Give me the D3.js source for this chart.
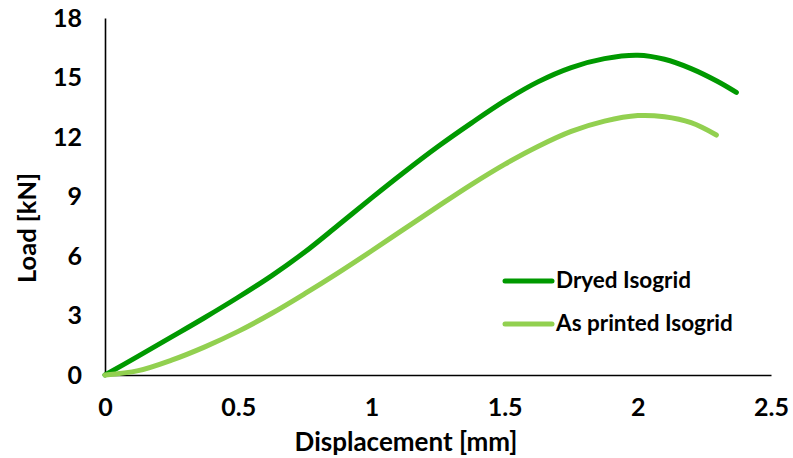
<!DOCTYPE html>
<html>
<head>
<meta charset="utf-8">
<script src="https://cdn.jsdelivr.net/npm/d3@7"></script>
<style>
  body { margin: 0; background: #fff; }
  text { font-family: Lato, "Open Sans", sans-serif; font-weight: bold; fill: #000; }
</style>
</head>
<body>
<svg id="chart" width="793" height="458"></svg>
<script>
// values
var dryedX = [0, 0.125, 0.25, 0.375, 0.5, 0.625, 0.75, 0.875, 1.0, 1.125, 1.25, 1.375, 1.5, 1.625, 1.75, 1.875, 2.0, 2.1, 2.2, 2.3, 2.37];
var dryedY = [0, 0.95, 1.92, 2.9, 3.92, 5.0, 6.2, 7.55, 8.92, 10.25, 11.52, 12.7, 13.82, 14.78, 15.5, 15.95, 16.12, 15.92, 15.45, 14.8, 14.25];
var printedX = [0, 0.125, 0.25, 0.375, 0.5, 0.625, 0.75, 0.875, 1.0, 1.125, 1.25, 1.375, 1.5, 1.625, 1.75, 1.875, 2.0, 2.1, 2.2, 2.295];
var printedY = [0, 0.22, 0.75, 1.42, 2.2, 3.1, 4.1, 5.15, 6.25, 7.38, 8.5, 9.6, 10.62, 11.52, 12.28, 12.8, 13.08, 13.02, 12.72, 12.1];
var xTicks = [0, 0.5, 1, 1.5, 2, 2.5];
var yTicks = [0, 3, 6, 9, 12, 15, 18];
var seriesNames = ["Dryed Isogrid", "As printed Isogrid"];

var svg = d3.select("#chart");
var margin = { left: 105, right: 22, top: 18, bottom: 83 };
var w = 793 - margin.left - margin.right;
var h = 458 - margin.top - margin.bottom;

var x = d3.scaleLinear().domain([0, 2.5]).range([0, w]);
var y = d3.scaleLinear().domain([0, 18]).range([h, 0]);

var g = svg.append("g").attr("transform", "translate(" + margin.left + "," + margin.top + ")");

var series = [
    { name: seriesNames[0], color: "#009900", pts: dryedX.map(function(v, i) { return [v, dryedY[i]]; }) },
    { name: seriesNames[1], color: "#92d050", pts: printedX.map(function(v, i) { return [v, printedY[i]]; }) }
];

var line = d3.line()
    .x(function(d) { return x(d[0]); })
    .y(function(d) { return y(d[1]); })
    .curve(d3.curveCatmullRom.alpha(0.5));

// axes, no tick marks
var xAxis = g.append("g").attr("transform", "translate(0," + h + ")")
    .call(d3.axisBottom(x).tickValues(xTicks).tickSize(0).tickPadding(23).tickFormat(d3.format("")));
var yAxis = g.append("g")
    .call(d3.axisLeft(y).tickValues(yTicks).tickSize(0).tickPadding(23));

[xAxis, yAxis].forEach(function(a) {
    a.select(".domain").attr("stroke", "#000").attr("stroke-width", 1.6);
    a.selectAll("text").style("font-size", "25px").style("font-family", "Lato, sans-serif").style("font-weight", "bold");
});

series.forEach(function(s) {
    g.append("path")
        .datum(s.pts)
        .attr("fill", "none")
        .attr("stroke", s.color)
        .attr("stroke-width", 5)
        .attr("stroke-linecap", "round")
        .attr("d", line);
});

// axis titles
svg.append("text")
    .attr("x", 406).attr("y", 451)
    .attr("text-anchor", "middle")
    .style("font-size", "26px")
    .text("Displacement [mm]");

svg.append("text")
    .attr("transform", "translate(36,228) rotate(-90)")
    .attr("text-anchor", "middle")
    .style("font-size", "25.5px")
    .text("Load [kN]");

// legend
var legend = svg.append("g").attr("transform", "translate(505,281)");
series.forEach(function(s, i) {
    var row = legend.append("g").attr("transform", "translate(0," + (i * 43) + ")");
    row.append("line")
        .attr("x1", 0).attr("x2", 47)
        .attr("stroke", s.color).attr("stroke-width", 5).attr("stroke-linecap", "round");
    row.append("text")
        .attr("x", 51).attr("y", 7)
        .style("font-size", "22.5px")
        .text(s.name);
});
</script>
</body>
</html>
